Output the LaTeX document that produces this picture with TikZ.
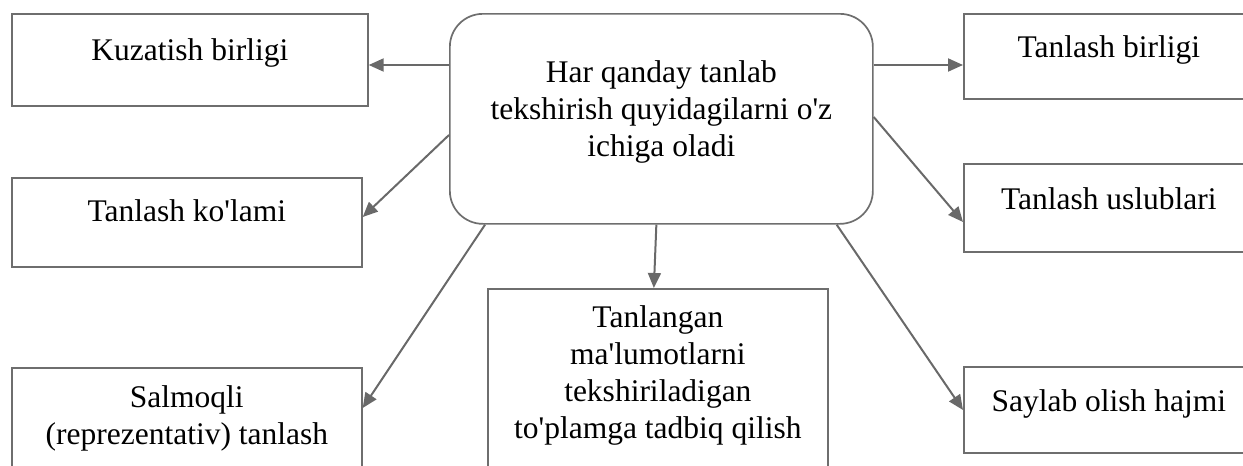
\documentclass[tikz,border=0pt]{standalone}
\usepackage{fontspec}
\setmainfont{Liberation Serif}
\usetikzlibrary{arrows.meta,calc}
\definecolor{edgec}{RGB}{110,110,110}
\definecolor{arrc}{RGB}{105,105,105}
\newcommand\bxt[4]{\parbox[c][#2][t]{#1}{\centering\vspace*{#3}\strut #4}}
\newcommand\aq{\textquotesingle}
\begin{document}
\begin{tikzpicture}[x=1pt,y=-1pt,
 boxn/.style={draw=edgec,line width=1.7pt,inner sep=0pt,anchor=north west,font=\fontsize{31.5}{37}\selectfont},
 roundn/.style={boxn,rounded corners=33pt},
 arr/.style={draw=arrc,line width=2pt,-{Triangle[length=15pt,width=13pt]}}]
\useasboundingbox (0,0) rectangle (1243,466);
\clip (0,0) rectangle (1243,466);
\node[boxn] (kb) at (11,13) {\bxt{356pt}{92pt}{21.1pt}{Kuzatish birligi}};
\node[boxn] (tk) at (11,177) {\bxt{350pt}{89pt}{18.1pt}{Tanlash ko\aq lami}};
\node[boxn] (sal) at (11,367) {\bxt{350pt}{130pt}{14.1pt}{Salmoqli\\(reprezentativ) tanlash}};
\node[roundn] (c) at (449,13) {\bxt{423pt}{210pt}{43.1pt}{Har qanday tanlab\\tekshirish quyidagilarni o\aq z\\ichiga oladi}};
\node[boxn] (tan) at (487,288) {\bxt{340pt}{200pt}{13.1pt}{Tanlangan\\ma\aq lumotlarni\\tekshiriladigan\\to\aq plamga tadbiq qilish}};
\node[boxn] (tb) at (963,13) {\bxt{290pt}{85pt}{18.1pt}{Tanlash birligi}};
\node[boxn] (tu) at (963,163) {\bxt{290pt}{88pt}{20.1pt}{Tanlash uslublari}};
\node[boxn] (sh) at (963,366) {\bxt{290pt}{86pt}{19.1pt}{Saylab olish hajmi}};
\coordinate (s1) at ($(c.north west)+(0,52)$);
\draw[arr] (s1) -- (kb.east |- s1);
\coordinate (s2) at ($(c.north east)+(0,52)$);
\draw[arr] (s2) -- (tb.west |- s2);
\draw[arr] ($(c.north west)+(0,122)$) -- ($(tk.north east)+(0,40)$);
\draw[arr] ($(c.north east)+(0,104)$) -- ($(tu.north west)+(0,59)$);
\draw[arr] ($(c.south west)+(36,0)$) -- ($(sal.north east)+(0,41)$);
\draw[arr] ($(c.south)+(-5,0)$) -- ($(tan.north)+(-4,0)$);
\draw[arr] ($(c.south east)+(-37,0)$) -- ($(sh.north west)+(0,44)$);
\end{tikzpicture}
\end{document}
